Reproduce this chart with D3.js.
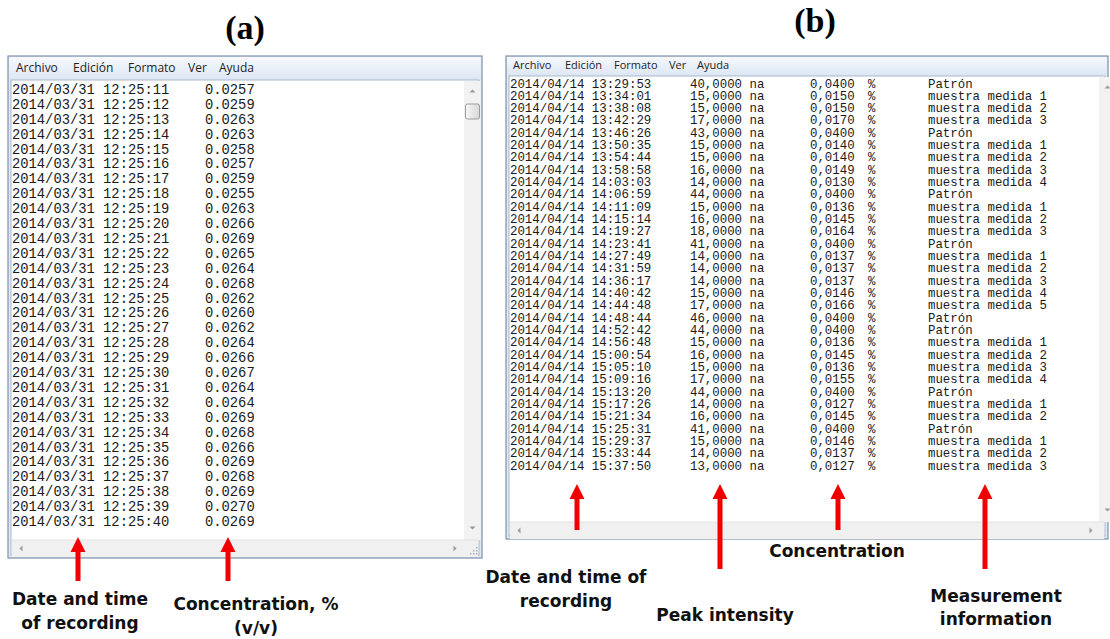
<!DOCTYPE html>
<html><head><meta charset="utf-8">
<script src="https://cdn.jsdelivr.net/npm/d3@7"></script>
<style>body{margin:0;background:#fff}svg{display:block}</style>
</head><body>
<svg id="c" width="1110" height="639"></svg>
<script>
// ---- data (a) ----
const aDate = "2014/03/31";
const aTimes = ["12:25:11","12:25:12","12:25:13","12:25:14","12:25:15","12:25:16","12:25:17","12:25:18","12:25:19","12:25:20","12:25:21","12:25:22","12:25:23","12:25:24","12:25:25","12:25:26","12:25:27","12:25:28","12:25:29","12:25:30","12:25:31","12:25:32","12:25:33","12:25:34","12:25:35","12:25:36","12:25:37","12:25:38","12:25:39","12:25:40"];
const aConc = [0.0257,0.0259,0.0263,0.0263,0.0258,0.0257,0.0259,0.0255,0.0263,0.0266,0.0269,0.0265,0.0264,0.0268,0.0262,0.0260,0.0262,0.0264,0.0266,0.0267,0.0264,0.0264,0.0269,0.0268,0.0266,0.0269,0.0268,0.0269,0.0270,0.0269];
// ---- data (b) ----
const bDate = "2014/04/14";
const bTimes = ["13:29:53","13:34:01","13:38:08","13:42:29","13:46:26","13:50:35","13:54:44","13:58:58","14:03:03","14:06:59","14:11:09","14:15:14","14:19:27","14:23:41","14:27:49","14:31:59","14:36:17","14:40:42","14:44:48","14:48:44","14:52:42","14:56:48","15:00:54","15:05:10","15:09:16","15:13:20","15:17:26","15:21:34","15:25:31","15:29:37","15:33:44","15:37:50"];
const bPeak = [40,15,15,17,43,15,15,16,14,44,15,16,18,41,14,14,14,15,17,46,44,15,16,15,17,44,14,16,41,15,14,13];
const bConc = [0.0400,0.0150,0.0150,0.0170,0.0400,0.0140,0.0140,0.0149,0.0130,0.0400,0.0136,0.0145,0.0164,0.0400,0.0137,0.0137,0.0137,0.0146,0.0166,0.0400,0.0400,0.0136,0.0145,0.0136,0.0155,0.0400,0.0127,0.0145,0.0400,0.0146,0.0137,0.0127];
const bInfo = ["Patrón","muestra medida 1","muestra medida 2","muestra medida 3","Patrón","muestra medida 1","muestra medida 2","muestra medida 3","muestra medida 4","Patrón","muestra medida 1","muestra medida 2","muestra medida 3","Patrón","muestra medida 1","muestra medida 2","muestra medida 3","muestra medida 4","muestra medida 5","Patrón","Patrón","muestra medida 1","muestra medida 2","muestra medida 3","muestra medida 4","Patrón","muestra medida 1","muestra medida 2","Patrón","muestra medida 1","muestra medida 2","muestra medida 3"];
const menuItems = ["Archivo","Edición","Formato","Ver","Ayuda"];

const svg = d3.select("#c");
const defs = svg.append("defs");
const g1 = defs.append("linearGradient").attr("id","menuG").attr("x1",0).attr("x2",0).attr("y1",0).attr("y2",1);
g1.append("stop").attr("offset","0%").attr("stop-color","#f6f9fd");
g1.append("stop").attr("offset","100%").attr("stop-color","#dde7f4");
const g2 = defs.append("linearGradient").attr("id","thumbG").attr("x1",0).attr("x2",1).attr("y1",0).attr("y2",0);
g2.append("stop").attr("offset","0%").attr("stop-color","#f7f7f7");
g2.append("stop").attr("offset","100%").attr("stop-color","#d8d8d8");

const mono = "'Liberation Mono','DejaVu Sans Mono',monospace";
const ui = "'Open Sans','Noto Sans',sans-serif";
const labelFont = "'DejaVu Sans',Lato,sans-serif";

function tri(g, cx, cy, dir, s){
  s = s||3;
  let p;
  if(dir==="up") p=[[cx-s,cy+s/2],[cx+s,cy+s/2],[cx,cy-s/2]];
  if(dir==="down") p=[[cx-s,cy-s/2],[cx+s,cy-s/2],[cx,cy+s/2]];
  if(dir==="left") p=[[cx+s/2,cy-s],[cx+s/2,cy+s],[cx-s/2,cy]];
  if(dir==="right") p=[[cx-s/2,cy-s],[cx-s/2,cy+s],[cx+s/2,cy]];
  g.append("path").attr("d","M"+p.map(d=>d.join(",")).join("L")+"Z").attr("fill","#9a9a9a");
}

function windowFrame(o){
  const g = svg.append("g");
  g.append("rect").attr("x",o.x).attr("y",o.y).attr("width",o.w).attr("height",o.h)
    .attr("fill","#dfe8f4").attr("stroke","#7e91ab").attr("stroke-width",1.2);
  g.append("rect").attr("x",o.x+1).attr("y",o.y+1).attr("width",o.w-2).attr("height",o.menuH)
    .attr("fill","url(#menuG)");
  g.append("rect").attr("x",o.x+3).attr("y",o.y+o.menuH+2).attr("width",o.w-6).attr("height",o.h-o.menuH-5)
    .attr("fill","#fff").attr("stroke","#a9b8cb").attr("stroke-width",1);
  g.append("rect").attr("x",o.vsx).attr("y",o.y+o.menuH+3).attr("width",o.sw).attr("height",o.hsy-(o.y+o.menuH+3))
    .attr("fill","#f2f2f2");
  g.append("rect").attr("x",o.x+4).attr("y",o.hsy).attr("width",o.w-8).attr("height",o.sw)
    .attr("fill","#f0f0f0");
  g.append("line").attr("x1",o.x+4).attr("x2",o.x+o.w-4).attr("y1",o.hsy).attr("y2",o.hsy).attr("stroke","#e2e2e2");
  tri(g, o.x+13, o.hsy+o.sw/2, "left", 3);
  tri(g, o.hsRight, o.hsy+o.sw/2, "right", 3);
  tri(g, o.vsx+o.sw/2, o.y+o.menuH+13, "up", 3);
  tri(g, o.vsx+o.sw/2, o.hsy-12, "down", 3);
  if(o.thumb){
    g.append("rect").attr("x",o.vsx+1.5).attr("y",o.thumb[0]).attr("width",o.sw-3).attr("height",o.thumb[1])
      .attr("rx",2).attr("fill","url(#thumbG)").attr("stroke","#9b9b9b");
  }
  if(o.grip){
    const gx=o.vsx+o.sw-5, gy=o.hsy+o.sw-4;
    [[0,0],[-3,0],[-6,0],[0,-3],[-3,-3],[0,-6]].forEach(d=>{
      g.append("rect").attr("x",gx+d[0]).attr("y",gy+d[1]).attr("width",1.5).attr("height",1.5).attr("fill","#b0b0b0");
    });
  }
  g.selectAll("text.menu").data(menuItems).join("text")
    .attr("x",(d,i)=>o.menuPos[i]).attr("y",o.y+o.menuBase)
    .attr("font-family",ui).attr("font-size",o.menuFs).attr("fill","#1e1e1e")
    .text(d=>d);
  return g;
}

windowFrame({x:8,y:56,w:474,h:502,menuH:22,menuBase:16,menuFs:12,
  menuPos:[16,73,128,188,219],vsx:464,sw:17,hsy:540,hsRight:455,thumb:[104,15],grip:true});
windowFrame({x:506,y:56,w:602,h:483,menuH:18,menuBase:13,menuFs:11,
  menuPos:[513,565,614,669,697],vsx:1099,sw:17,hsy:522,hsRight:1091,thumb:null,grip:false});

const ya = d3.scalePoint().domain(aTimes).range([94,526]);
const ta = svg.append("g").attr("font-family",mono).attr("font-size",13.8).attr("fill","#1a1a1a");
ta.selectAll("text.d").data(aTimes).join("text").attr("x",12).attr("y",d=>ya(d))
  .text(d=>aDate+" "+d);
ta.selectAll("text.v").data(aTimes).join("text").attr("x",205).attr("y",d=>ya(d))
  .text((d,i)=>d3.format(".4f")(aConc[i]));

const yb = d3.scalePoint().domain(bTimes).range([87.5,469.5]);
const comma = v=>d3.format(".4f")(v).replace(".",",");
const tb = svg.append("g").attr("font-family",mono).attr("font-size",12.4).attr("fill","#1a1a1a");
const rows = bTimes.map((t,i)=>({t,i}));
tb.selectAll("text.d").data(rows).join("text").attr("x",510).attr("y",d=>yb(d.t)).text(d=>bDate+" "+d.t);
tb.selectAll("text.p").data(rows).join("text").attr("x",690).attr("y",d=>yb(d.t)).text(d=>comma(bPeak[d.i])+" na");
tb.selectAll("text.c").data(rows).join("text").attr("x",810).attr("y",d=>yb(d.t)).text(d=>comma(bConc[d.i]));
tb.selectAll("text.u").data(rows).join("text").attr("x",868).attr("y",d=>yb(d.t)).text("%");
tb.selectAll("text.i").data(rows).join("text").attr("x",928).attr("y",d=>yb(d.t)).text(d=>bInfo[d.i]);

const arrows = [{x:78,y0:537,y1:581},{x:228,y0:537,y1:581},{x:577,y0:484,y1:530},{x:720,y0:484,y1:569},{x:838,y0:484,y1:530},{x:985,y0:484,y1:569}];
svg.append("g").selectAll("path").data(arrows).join("path")
  .attr("d",d=>`M${d.x-2.5},${d.y1}L${d.x-2.5},${d.y0+15}L${d.x-7.5},${d.y0+15}L${d.x},${d.y0}L${d.x+7.5},${d.y0+15}L${d.x+2.5},${d.y0+15}L${d.x+2.5},${d.y1}Z`)
  .attr("fill","#f20000");

const labels = [
  {x:80,y:605,t:"Date and time"},{x:80,y:629,t:"of recording"},
  {x:256,y:610,t:"Concentration, %"},{x:256,y:634,t:"(v/v)"},
  {x:837,y:557,t:"Concentration"},
  {x:566,y:583,t:"Date and time of"},{x:566,y:607,t:"recording"},
  {x:725,y:621,t:"Peak intensity"},
  {x:996,y:602,t:"Measurement"},{x:996,y:625,t:"information"}
];
svg.append("g").selectAll("text").data(labels).join("text")
  .attr("x",d=>d.x).attr("y",d=>d.y).attr("text-anchor","middle")
  .attr("font-family",labelFont).attr("font-weight","bold").attr("font-size",17).attr("fill","#111")
  .text(d=>d.t);

svg.append("g").selectAll("text").data([{x:245,y:39,t:"(a)"},{x:815,y:32,t:"(b)"}]).join("text")
  .attr("x",d=>d.x).attr("y",d=>d.y).attr("text-anchor","middle")
  .attr("font-family","'Liberation Serif','Times New Roman',serif").attr("font-weight","bold").attr("font-size",34)
  .text(d=>d.t);
</script>
</body></html>
